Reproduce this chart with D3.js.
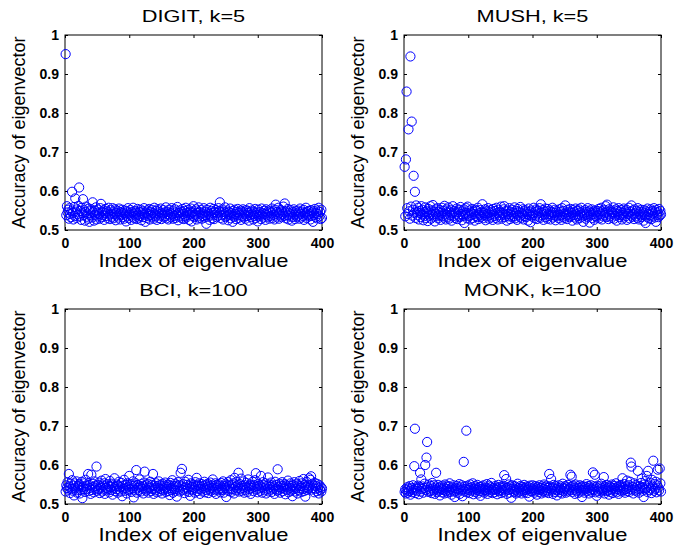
<!DOCTYPE html>
<html>
<head>
<meta charset="utf-8">
<script src="https://cdn.jsdelivr.net/npm/d3@7"></script>
<style>
  body { margin: 0; background: #fff; }
  svg { display: block; font-family: "Liberation Sans", Arial, Helvetica, sans-serif; }
</style>
</head>
<body>
<svg id="chart" width="676" height="549"></svg>
<script>
// accuracy of each eigenvector, index 1..400
const digit = [
  .951,.538,.561,.545,.552,.529,.556,.541,.533,.548,.598,.544,.527,.559,.536,.581,.547,.531,.553,.540,
  .562,.609,.535,.549,.526,.557,.543,.579,.538,.551,.524,.546,.560,.534,.542,.529,.555,.521,.548,.537,
  .553,.532,.571,.545,.524,.550,.539,.558,.527,.544,.535,.552,.541,.529,.556,.567,.533,.547,.538,.550,
  .526,.543,.554,.536,.548,.531,.545,.557,.539,.528,.551,.542,.534,.556,.530,.547,.540,.553,.525,.544,
  .537,.549,.532,.555,.541,.527,.546,.538,.552,.533,.544,.529,.550,.540,.522,.548,.535,.556,.531,.543,
  .539,.551,.526,.546,.534,.557,.542,.530,.549,.537,.545,.528,.554,.540,.532,.547,.536,.552,.525,.543,
  .548,.533,.556,.539,.521,.545,.531,.550,.541,.536,.554,.527,.547,.538,.552,.534,.544,.529,.557,.540,
  .535,.549,.526,.553,.542,.531,.546,.537,.555,.528,.543,.539,.551,.532,.545,.536,.558,.530,.547,.541,
  .527,.552,.538,.544,.533,.556,.540,.529,.548,.536,.553,.531,.545,.539,.559,.525,.543,.534,.550,.537,
  .546,.530,.554,.541,.528,.549,.535,.557,.532,.544,.538,.552,.526,.547,.540,.555,.522,.545,.536,.561,
  .533,.548,.539,.553,.527,.544,.535,.558,.531,.546,.540,.551,.529,.543,.536,.556,.532,.547,.538,.516,
  .552,.534,.545,.541,.526,.557,.537,.549,.530,.543,.554,.528,.546,.539,.551,.533,.544,.537,.556,.548,
  .571,.531,.545,.538,.553,.527,.547,.540,.558,.533,.544,.536,.550,.525,.546,.539,.555,.530,.543,.537,
  .521,.549,.534,.552,.541,.528,.546,.537,.554,.531,.544,.539,.550,.526,.547,.535,.553,.532,.545,.540,
  .529,.551,.536,.548,.543,.524,.556,.538,.545,.533,.550,.541,.527,.547,.536,.554,.531,.544,.539,.522,
  .552,.535,.546,.540,.528,.555,.537,.543,.532,.549,.541,.526,.553,.538,.545,.534,.550,.529,.547,.536,
  .543,.555,.531,.548,.539,.527,.552,.565,.534,.546,.540,.557,.529,.544,.537,.551,.533,.547,.541,.560,
  .536,.568,.545,.530,.549,.538,.554,.527,.543,.535,.551,.540,.524,.546,.533,.553,.539,.528,.548,.542,
  .534,.550,.537,.545,.529,.555,.541,.532,.547,.536,.552,.526,.544,.539,.557,.531,.546,.538,.549,.535,
  .542,.527,.551,.536,.545,.521,.548,.539,.554,.533,.544,.530,.550,.541,.557,.535,.546,.528,.552,.531
];

const mush = [
  .662,.535,.681,.855,.556,.541,.758,.548,.529,.945,.560,.778,.537,.552,.639,.544,.598,.531,.563,.546,
  .538,.557,.527,.549,.543,.533,.561,.540,.552,.525,.546,.536,.558,.531,.548,.542,.523,.554,.537,.545,
  .561,.529,.550,.539,.564,.534,.547,.522,.553,.541,.535,.556,.530,.546,.538,.551,.526,.544,.557,.536,
  .549,.532,.562,.540,.527,.553,.545,.534,.558,.529,.547,.538,.552,.524,.543,.561,.536,.549,.531,.545,
  .540,.555,.528,.547,.537,.552,.533,.559,.541,.525,.548,.536,.553,.518,.544,.539,.556,.530,.560,.542,
  .535,.550,.527,.545,.538,.554,.531,.547,.541,.524,.552,.536,.549,.533,.557,.528,.543,.539,.551,.534,
  .546,.566,.530,.544,.538,.553,.525,.548,.541,.535,.556,.529,.545,.539,.551,.532,.547,.526,.554,.540,
  .536,.549,.531,.557,.543,.527,.552,.538,.546,.534,.560,.529,.544,.540,.553,.561,.533,.548,.537,.524,
  .550,.541,.535,.556,.528,.547,.539,.552,.532,.545,.536,.558,.530,.543,.549,.526,.554,.538,.546,.534,
  .559,.531,.544,.540,.553,.527,.548,.536,.551,.533,.545,.541,.524,.555,.538,.547,.520,.550,.535,.543,
  .539,.557,.530,.546,.537,.553,.528,.549,.542,.534,.556,.531,.566,.545,.538,.551,.526,.547,.540,.555,
  .533,.548,.529,.554,.541,.536,.550,.527,.546,.539,.557,.532,.544,.537,.552,.525,.548,.535,.545,.540,
  .530,.553,.538,.547,.526,.556,.534,.549,.541,.531,.563,.537,.545,.528,.552,.539,.547,.533,.554,.536,
  .544,.524,.551,.538,.546,.532,.555,.540,.527,.549,.536,.553,.530,.545,.539,.557,.534,.548,.521,.542,
  .537,.551,.529,.546,.540,.556,.533,.548,.519,.544,.538,.553,.531,.547,.541,.526,.550,.536,.545,.532,
  .549,.538,.554,.530,.545,.541,.557,.527,.548,.535,.552,.539,.544,.561,.533,.565,.547,.528,.553,.540,
  .536,.550,.531,.546,.542,.558,.529,.545,.537,.553,.524,.549,.540,.556,.533,.547,.538,.551,.527,.544,
  .539,.555,.532,.548,.536,.552,.526,.545,.541,.557,.530,.547,.537,.563,.534,.550,.540,.528,.553,.543,
  .535,.549,.531,.556,.542,.527,.547,.538,.552,.533,.545,.540,.524,.551,.537,.518,.548,.534,.555,.541,
  .530,.546,.538,.553,.528,.549,.543,.535,.556,.532,.547,.521,.551,.539,.545,.533,.554,.537,.549,.540
];

const bci = [
  .532,.548,.541,.556,.537,.577,.545,.528,.552,.539,.561,.534,.547,.522,.553,.540,.535,.558,.529,.546,
  .542,.551,.527,.548,.536,.557,.515,.544,.539,.553,.531,.562,.546,.538,.550,.577,.533,.549,.541,.526,
  .575,.536,.552,.544,.530,.558,.540,.547,.596,.534,.549,.538,.555,.528,.545,.541,.560,.532,.547,.537,
  .553,.526,.564,.542,.535,.551,.539,.546,.530,.559,.543,.536,.552,.524,.548,.540,.566,.533,.545,.538,
  .550,.529,.546,.557,.537,.543,.532,.554,.520,.547,.539,.562,.534,.549,.541,.527,.553,.536,.545,.572,
  .538,.551,.531,.546,.540,.558,.517,.547,.535,.553,.587,.529,.549,.542,.536,.563,.545,.532,.551,.539,
  .546,.527,.555,.583,.540,.534,.548,.537,.552,.529,.545,.541,.557,.533,.549,.538,.577,.526,.547,.540,
  .535,.553,.530,.546,.541,.558,.532,.549,.538,.545,.527,.552,.536,.547,.540,.555,.531,.544,.539,.550,
  .533,.548,.523,.554,.541,.536,.561,.529,.546,.538,.552,.534,.547,.519,.543,.556,.537,.549,.532,.580,
  .545,.590,.536,.551,.540,.528,.557,.543,.534,.549,.539,.562,.531,.546,.521,.553,.538,.544,.535,.550,
  .541,.529,.556,.547,.567,.533,.548,.539,.553,.526,.545,.537,.551,.532,.546,.540,.557,.530,.549,.536,
  .543,.552,.528,.547,.539,.555,.534,.548,.541,.563,.531,.546,.537,.553,.526,.549,.542,.535,.551,.538,
  .547,.530,.554,.540,.536,.558,.529,.545,.541,.552,.518,.548,.537,.556,.533,.546,.540,.561,.531,.549,
  .538,.553,.527,.567,.543,.535,.556,.540,.548,.580,.532,.551,.539,.565,.534,.546,.541,.558,.529,.548,
  .536,.554,.542,.531,.563,.545,.538,.550,.526,.547,.541,.557,.533,.549,.544,.561,.579,.537,.546,.530,
  .552,.540,.547,.534,.572,.543,.529,.556,.541,.548,.535,.553,.527,.546,.539,.568,.532,.550,.544,.537,
  .555,.531,.548,.540,.545,.526,.557,.538,.549,.534,.589,.543,.536,.552,.529,.547,.541,.556,.533,.546,
  .539,.551,.525,.548,.543,.536,.560,.530,.547,.541,.553,.534,.546,.520,.549,.538,.556,.532,.545,.540,
  .552,.527,.548,.535,.559,.541,.546,.531,.553,.538,.564,.533,.549,.519,.543,.557,.536,.548,.540,.566,
  .545,.562,.571,.537,.552,.541,.547,.530,.554,.539,.546,.533,.551,.542,.527,.548,.536,.544,.532,.540
];

const monk = [
  .531,.538,.527,.535,.543,.529,.540,.533,.546,.524,.537,.541,.530,.548,.536,.597,.693,.528,.542,.534,
  .539,.547,.525,.544,.580,.532,.563,.538,.545,.529,.541,.552,.600,.536,.619,.659,.543,.531,.550,.537,
  .533,.546,.528,.554,.540,.535,.548,.526,.542,.580,.537,.531,.549,.534,.541,.522,.545,.538,.530,.547,
  .536,.542,.527,.550,.533,.539,.544,.529,.546,.535,.553,.531,.540,.524,.543,.537,.548,.532,.518,.541,
  .534,.546,.529,.540,.537,.551,.526,.543,.535,.548,.520,.538,.608,.532,.545,.539,.688,.530,.547,.536,
  .541,.528,.550,.534,.543,.537,.553,.525,.539,.546,.531,.542,.536,.549,.527,.540,.533,.544,.521,.538,
  .545,.532,.539,.548,.529,.536,.542,.534,.551,.526,.540,.537,.547,.531,.543,.554,.535,.528,.541,.538,
  .530,.546,.536,.542,.525,.539,.549,.533,.544,.537,.528,.541,.535,.547,.531,.574,.545,.538,.564,.526,
  .542,.536,.550,.529,.545,.539,.516,.548,.534,.540,.531,.546,.537,.527,.543,.535,.552,.530,.541,.538,
  .546,.533,.527,.544,.539,.535,.549,.530,.541,.536,.545,.528,.538,.543,.519,.547,.534,.540,.532,.548,
  .537,.542,.529,.546,.535,.540,.524,.544,.538,.531,.548,.536,.541,.527,.545,.533,.539,.550,.530,.543,
  .536,.547,.532,.541,.528,.577,.545,.538,.564,.534,.543,.526,.549,.539,.531,.546,.537,.522,.542,.535,
  .548,.530,.540,.536,.545,.527,.552,.533,.541,.538,.546,.529,.543,.535,.549,.532,.540,.537,.575,.544,
  .570,.531,.547,.536,.542,.526,.550,.539,.534,.545,.528,.541,.537,.548,.532,.543,.518,.546,.535,.540,
  .529,.544,.538,.551,.533,.540,.546,.527,.542,.535,.548,.531,.539,.581,.545,.536,.575,.530,.543,.521,
  .547,.534,.540,.529,.545,.538,.552,.532,.541,.536,.569,.527,.544,.539,.549,.533,.542,.535,.524,.546,
  .531,.543,.537,.550,.528,.541,.546,.534,.539,.553,.530,.544,.538,.526,.547,.535,.542,.549,.532,.566,
  .540,.536,.551,.529,.545,.538,.560,.533,.542,.548,.531,.557,.606,.596,.537,.544,.527,.553,.540,.535,
  .549,.532,.545,.585,.538,.529,.546,.541,.554,.565,.534,.543,.518,.550,.537,.559,.542,.572,.531,.585,
  .547,.536,.555,.540,.528,.562,.545,.611,.534,.551,.539,.557,.530,.548,.588,.542,.535,.591,.553,.532
];

const titles = ["DIGIT, k=5", "MUSH, k=5", "BCI, k=100", "MONK, k=100"];
const series = [digit, mush, bci, monk];
const xTicks = [0, 100, 200, 300, 400];
const yTicks = [0.5, 0.6, 0.7, 0.8, 0.9, 1];
const xLabel = "Index of eigenvalue";
const yLabel = "Accuracy of eigenvector";

var svg = d3.select("#chart");

// axes boxes in pixels: left, top
var cols = [65, 404], rows = [35, 309];
var w = 257, h = 195;

var drawPanel = (k) => {
  var left = cols[k % 2], top = rows[Math.floor(k / 2)];
  var data = series[k];

  var x = d3.scaleLinear().domain([0, 400]).range([left, left + w]);
  var y = d3.scaleLinear().domain([0.5, 1]).range([top + h, top]);

  var g = svg.append("g");

  // box
  g.append("rect")
    .attr("x", left).attr("y", top)
    .attr("width", w).attr("height", h)
    .attr("fill", "none").attr("stroke", "#000").attr("stroke-width", 1);

  var styleAxis = (a) => {
    a.select(".domain").remove();
    a.selectAll(".tick line").attr("stroke", "#000");
    a.selectAll(".tick text")
      .attr("fill", "#000")
      .style("font-size", "14px")
      .style("font-weight", "bold")
      .style("font-family", "'Liberation Sans', Arial, sans-serif");
  };

  g.append("g")
    .attr("transform", `translate(0,${top + h})`)
    .call(d3.axisBottom(x).tickValues(xTicks).tickSize(-3).tickPadding(8).tickFormat(d3.format("d")))
    .call(styleAxis);

  g.append("g")
    .attr("transform", `translate(${left},0)`)
    .call(d3.axisLeft(y).tickValues(yTicks).tickSize(-3).tickPadding(6).tickFormat((d) => d === 1 ? "1" : d3.format(".1f")(d)))
    .call(styleAxis);

  // mirrored ticks on top and right
  g.append("g")
    .attr("transform", `translate(0,${top})`)
    .call(d3.axisTop(x).tickValues(xTicks).tickSize(-3).tickFormat(""))
    .call(styleAxis);

  g.append("g")
    .attr("transform", `translate(${left + w},0)`)
    .call(d3.axisRight(y).tickValues(yTicks).tickSize(-3).tickFormat(""))
    .call(styleAxis);

  g.append("g")
    .selectAll("circle")
    .data(data)
    .join("circle")
    .attr("cx", (d, i) => x(i + 1))
    .attr("cy", (d) => y(d))
    .attr("r", 4.6)
    .attr("fill", "none")
    .attr("stroke", "#0000ff")
    .attr("stroke-width", 1);

  // title, drawn a bit wide like the original
  g.append("text")
    .attr("transform", `translate(${left + w / 2},${top - 13}) scale(1.32,1)`)
    .attr("text-anchor", "middle")
    .style("font-size", "16.5px")
    .text(titles[k]);

  g.append("text")
    .attr("x", left + w / 2)
    .attr("y", top + h + 37)
    .attr("text-anchor", "middle")
    .attr("textLength", 190)
    .attr("lengthAdjust", "spacingAndGlyphs")
    .style("font-size", "18.5px")
    .text(xLabel);

  g.append("text")
    .attr("transform", `translate(${left - 40},${top + h / 2}) rotate(-90)`)
    .attr("text-anchor", "middle")
    .style("font-size", "18px")
    .text(yLabel);
};

[0, 1, 2, 3].forEach(drawPanel);
</script>
</body>
</html>
